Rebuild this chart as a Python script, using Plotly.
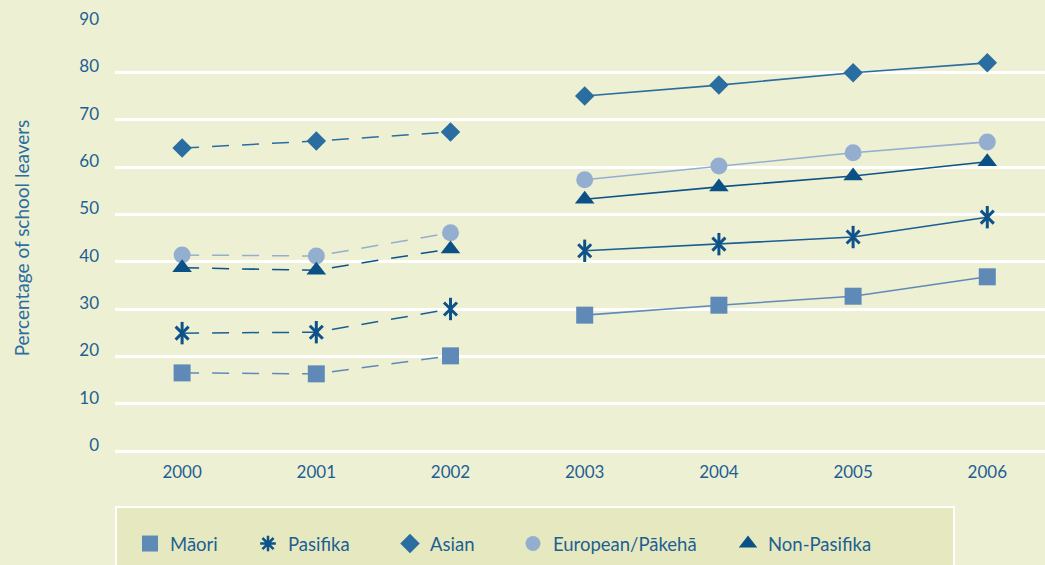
import plotly.graph_objects as go

years = [2000, 2001, 2002, 2003, 2004, 2005, 2006]
year_labels = ["2000", "2001", "2002", "2003", "2004", "2005", "2006"]
y_ticks = [0, 10, 20, 30, 40, 50, 60, 70, 80, 90]

maori = [16.5, 16.3, 20.1, 28.7, 30.8, 32.7, 36.8]
pasifika = [24.9, 25.1, 30.0, 42.3, 43.7, 45.2, 49.4]
asian = [64.0, 65.5, 67.4, 75.0, 77.3, 79.9, 82.0]
european = [41.4, 41.2, 46.1, 57.3, 60.2, 63.0, 65.3]
non_pasifika = [38.7, 38.2, 42.7, 53.2, 55.8, 58.1, 61.1]

names = ["Māori", "Pasifika", "Asian", "European/Pākehā", "Non-Pasifika"]

BG = "#eef0d3"
LEG_BG = "#e6e9bf"
TXT = "#1d5f93"
FONT = "Lato"

series = [
    dict(name=names[0], y=maori, mcol="#5f8ab8", lcol="#5f8ab8", sym="square", size=17, lsize=16),
    dict(name=names[1], y=pasifika, mcol="#0d5288", lcol="#1a5f93", sym="asterisk", size=15, lsize=13),
    dict(name=names[2], y=asian, mcol="#2a6da0", lcol="#2a6da0", sym="diamond", size=15, lsize=15),
    dict(name=names[3], y=european, mcol="#94aed0", lcol="#94aed0", sym="circle", size=17, lsize=15),
    dict(name=names[4], y=non_pasifika, mcol="#0b5185", lcol="#0d5288", sym="triangle-up", size=17, lsize=16),
]

fig = go.Figure()

for s in series:
    # dashed segment 2000-2002, solid 2003-2006
    fig.add_trace(go.Scatter(x=years[:3], y=s["y"][:3], mode="lines",
                             line=dict(color=s["lcol"], width=1.5, dash="17px,13px"),
                             showlegend=False, hoverinfo="skip"))
    fig.add_trace(go.Scatter(x=years[3:], y=s["y"][3:], mode="lines",
                             line=dict(color=s["lcol"], width=1.6),
                             showlegend=False, hoverinfo="skip"))

for s in series:
    if s["sym"] == "asterisk":
        fig.add_trace(go.Scatter(x=years, y=s["y"], mode="markers",
                                 marker=dict(symbol="x-thin-open", size=13, color=s["mcol"],
                                             line=dict(color=s["mcol"], width=3)),
                                 showlegend=False, name=s["name"]))
        fig.add_trace(go.Scatter(x=years, y=s["y"], mode="markers",
                                 marker=dict(symbol="line-ns-open", size=16, color=s["mcol"],
                                             line=dict(color=s["mcol"], width=3)),
                                 showlegend=False, name=s["name"]))
    else:
        fig.add_trace(go.Scatter(x=years, y=s["y"], mode="markers",
                                 marker=dict(symbol=s["sym"], size=s["size"], color=s["mcol"],
                                             line=dict(width=0)),
                                 showlegend=False, name=s["name"]))

# legend entries, each in its own legend so it can be placed as in the reference
legend_px = [130, 248, 390, 513, 728]  # left edge in pixels
for i, s in enumerate(series):
    lname = "legend" if i == 0 else f"legend{i+1}"
    if s["sym"] == "asterisk":
        mk = dict(symbol="asterisk-open", size=s["lsize"], color=s["mcol"],
                  line=dict(color=s["mcol"], width=2.5))
    else:
        mk = dict(symbol=s["sym"], size=s["lsize"], color=s["mcol"], line=dict(width=0))
    fig.add_trace(go.Scatter(x=[None], y=[None], mode="markers", name=s["name"],
                             marker=mk, legend=lname, showlegend=True))

plot_l, plot_r, plot_t, plot_b = 115, 1045, 25, 451
W, H = 1045, 565
pw, ph = plot_r - plot_l, plot_b - plot_t

def px_x(p):
    return (p - plot_l) / pw

def px_y(p):
    return (plot_b - p) / ph

legend_layout = {}
for i, p in enumerate(legend_px):
    lname = "legend" if i == 0 else f"legend{i+1}"
    legend_layout[lname] = dict(x=px_x(p), y=px_y(544), xanchor="left", yanchor="middle",
                                bgcolor="rgba(0,0,0,0)", borderwidth=0,
                                font=dict(family=FONT, size=18.5, color=TXT),
                                orientation="h")

fig.add_shape(type="rect", xref="paper", yref="paper",
              x0=px_x(116), x1=px_x(954), y0=px_y(507), y1=px_y(575),
              fillcolor=LEG_BG, line=dict(color="white", width=2), layer="below")

fig.update_layout(
    width=W, height=H,
    margin=dict(l=plot_l, r=W - plot_r, t=plot_t, b=H - plot_b, autoexpand=False),
    paper_bgcolor=BG, plot_bgcolor=BG,
    font=dict(family=FONT, size=17, color=TXT),
    xaxis=dict(range=[1999.5, 2006.43], tickvals=years, ticktext=year_labels,
               showgrid=False, zeroline=False, showline=False,
               ticks="outside", ticklen=6, tickcolor="rgba(0,0,0,0)",
               tickfont=dict(family=FONT, size=17, color=TXT)),
    yaxis=dict(range=[0, 90], tickvals=y_ticks, showgrid=True, gridcolor="white", gridwidth=3,
               zeroline=True, zerolinecolor="white", zerolinewidth=3, showline=False,
               ticklabelstandoff=15, ticklabelshift=-6,
               tickfont=dict(family=FONT, size=17, color=TXT),
               title=dict(text="Percentage of school leavers", standoff=44,
                          font=dict(family=FONT, size=19, color="#2a6da0"))),
    hovermode=False,
    **legend_layout,
)

fig.write_html("out.html", config={"displayModeBar": False},
               post_script="document.body.style.margin='0';")
